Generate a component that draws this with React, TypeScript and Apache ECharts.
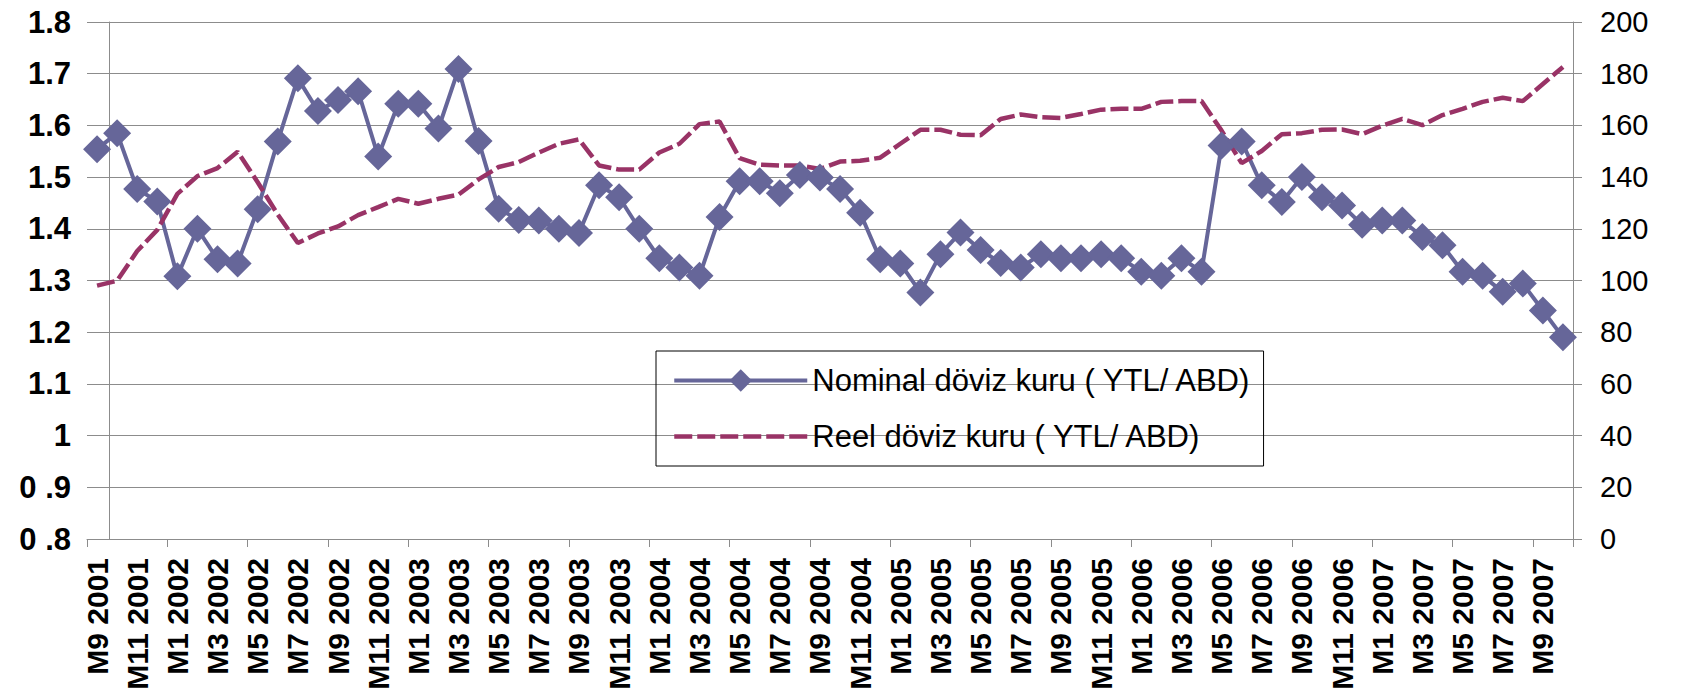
import React, { useEffect, useRef } from 'react';
import * as echarts from 'echarts';

const categories = [
  'M9 2001', 'M10 2001', 'M11 2001', 'M12 2001',
  'M1 2002', 'M2 2002', 'M3 2002', 'M4 2002', 'M5 2002', 'M6 2002', 'M7 2002', 'M8 2002', 'M9 2002', 'M10 2002', 'M11 2002', 'M12 2002',
  'M1 2003', 'M2 2003', 'M3 2003', 'M4 2003', 'M5 2003', 'M6 2003', 'M7 2003', 'M8 2003', 'M9 2003', 'M10 2003', 'M11 2003', 'M12 2003',
  'M1 2004', 'M2 2004', 'M3 2004', 'M4 2004', 'M5 2004', 'M6 2004', 'M7 2004', 'M8 2004', 'M9 2004', 'M10 2004', 'M11 2004', 'M12 2004',
  'M1 2005', 'M2 2005', 'M3 2005', 'M4 2005', 'M5 2005', 'M6 2005', 'M7 2005', 'M8 2005', 'M9 2005', 'M10 2005', 'M11 2005', 'M12 2005',
  'M1 2006', 'M2 2006', 'M3 2006', 'M4 2006', 'M5 2006', 'M6 2006', 'M7 2006', 'M8 2006', 'M9 2006', 'M10 2006', 'M11 2006', 'M12 2006',
  'M1 2007', 'M2 2007', 'M3 2007', 'M4 2007', 'M5 2007', 'M6 2007', 'M7 2007', 'M8 2007', 'M9 2007', 'M10 2007',
];

const nominal = [
  1.554, 1.585, 1.477, 1.453,
  1.308, 1.400, 1.341, 1.333, 1.438, 1.569, 1.691, 1.628, 1.649, 1.666, 1.540, 1.642,
  1.642, 1.594, 1.709, 1.570, 1.439, 1.417, 1.416, 1.400, 1.392, 1.484, 1.461, 1.400,
  1.343, 1.325, 1.309, 1.423, 1.492, 1.492, 1.469, 1.504, 1.499, 1.477, 1.431, 1.341,
  1.333, 1.277, 1.351, 1.393, 1.359, 1.334, 1.325, 1.351, 1.343, 1.343, 1.351, 1.343,
  1.317, 1.309, 1.343, 1.317, 1.561, 1.569, 1.484, 1.452, 1.500, 1.461, 1.445, 1.408,
  1.416, 1.416, 1.384, 1.368, 1.317, 1.309, 1.278, 1.294, 1.242, 1.190,
];

const real = [
  98.0, 99.9, 111.4, 119.6,
  133.5, 140.4, 143.5, 149.8, 138.0, 125.5, 114.5, 118.2, 120.9, 125.3, 128.4, 131.6,
  129.7, 131.6, 133.2, 139.1, 143.9, 145.8, 149.5, 152.9, 154.6, 144.5, 142.9, 142.9,
  149.5, 152.9, 160.5, 161.5, 147.3, 144.8, 144.5, 144.5, 143.1, 146.0, 146.3, 147.5,
  152.9, 158.3, 158.3, 156.4, 156.2, 162.5, 164.2, 163.2, 162.9, 164.4, 166.1, 166.4,
  166.4, 169.1, 169.4, 169.4, 158.0, 145.4, 150.1, 156.6, 157.0, 158.3, 158.4, 156.6,
  159.9, 162.5, 160.1, 164.0, 166.4, 169.1, 170.7, 169.4, 176.0, 182.6,
];

const leftTickLabels = ['0 .8', '0 .9', '1', '1.1', '1.2', '1.3', '1.4', '1.5', '1.6', '1.7', '1.8'];

const seriesNames = ['Nominal döviz kuru ( YTL/ ABD)', 'Reel döviz kuru ( YTL/ ABD)'];

const FONT = "'Liberation Sans', Arial, sans-serif";
const GRID_COLOR = '#8c8c8c';
const NOMINAL_COLOR = '#666699';
const REAL_COLOR = '#993366';

export default function App() {
  const ref = useRef<HTMLDivElement>(null);
  useEffect(() => {
    const chart = echarts.init(ref.current!, null, { renderer: 'svg' });
    chart.setOption({
      animation: false,
      backgroundColor: '#ffffff',
      textStyle: { fontFamily: FONT },
      grid: { left: 87, right: 109, top: 22, bottom: 156, containLabel: false },
      legend: {
        orient: 'vertical',
        left: 656,
        top: 351,
        padding: [14, 12, 14, 16],
        borderColor: '#000000',
        borderWidth: 1,
        itemWidth: 133,
        itemHeight: 28,
        itemGap: 25,
        textStyle: { fontFamily: FONT, fontSize: 31, color: '#000000' },
        data: [
          { name: seriesNames[0], lineStyle: { width: 4 } },
          {
            name: seriesNames[1],
            itemStyle: { color: 'rgba(0,0,0,0)', borderWidth: 0 },
            lineStyle: { width: 4.5, color: REAL_COLOR },
          },
        ],
      },
      xAxis: {
        type: 'category',
        data: categories,
        boundaryGap: true,
        axisLine: { show: true, lineStyle: { color: GRID_COLOR, width: 1 } },
        axisTick: { show: true, interval: 3, length: 8, lineStyle: { color: GRID_COLOR } },
        axisLabel: {
          interval: 1,
          rotate: 90,
          margin: 19,
          fontFamily: FONT,
          fontSize: 30,
          fontWeight: 'bold',
          color: '#000000',
        },
        splitLine: { show: false },
      },
      yAxis: [
        {
          type: 'value',
          position: 'left',
          min: 0.8,
          max: 1.8,
          interval: 0.1,
          offset: -22,
          axisLine: { show: true, lineStyle: { color: GRID_COLOR, width: 1 } },
          axisTick: { show: false },
          splitLine: { show: true, lineStyle: { color: GRID_COLOR, width: 1 } },
          axisLabel: {
            margin: 38,
            fontFamily: FONT,
            fontSize: 31,
            fontWeight: 'bold',
            color: '#000000',
            formatter: (v: number) => leftTickLabels[Math.round((v - 0.8) * 10)] ?? String(v),
          },
        },
        {
          type: 'value',
          position: 'right',
          min: 0,
          max: 200,
          interval: 20,
          axisLine: { show: true, lineStyle: { color: GRID_COLOR, width: 1 } },
          axisTick: { show: true, length: 9, lineStyle: { color: GRID_COLOR } },
          splitLine: { show: false },
          axisLabel: {
            margin: 27,
            fontFamily: FONT,
            fontSize: 29,
            color: '#000000',
          },
        },
      ],
      series: [
        {
          name: seriesNames[0],
          type: 'line',
          yAxisIndex: 0,
          data: nominal,
          symbol: 'diamond',
          symbolSize: 28,
          showAllSymbol: true,
          lineStyle: { color: NOMINAL_COLOR, width: 4 },
          itemStyle: { color: NOMINAL_COLOR },
        },
        {
          name: seriesNames[1],
          type: 'line',
          yAxisIndex: 1,
          data: real,
          symbol: 'none',
          lineStyle: { color: REAL_COLOR, width: 4.5, type: [18, 5] },
          itemStyle: { color: REAL_COLOR },
        },
      ],
    });
    return () => chart.dispose();
  }, []);
  return (
    <div
      ref={ref}
      style={{ position: 'fixed', left: 0, top: 0, width: 1682, height: 695, background: '#ffffff' }}
    />
  );
}
